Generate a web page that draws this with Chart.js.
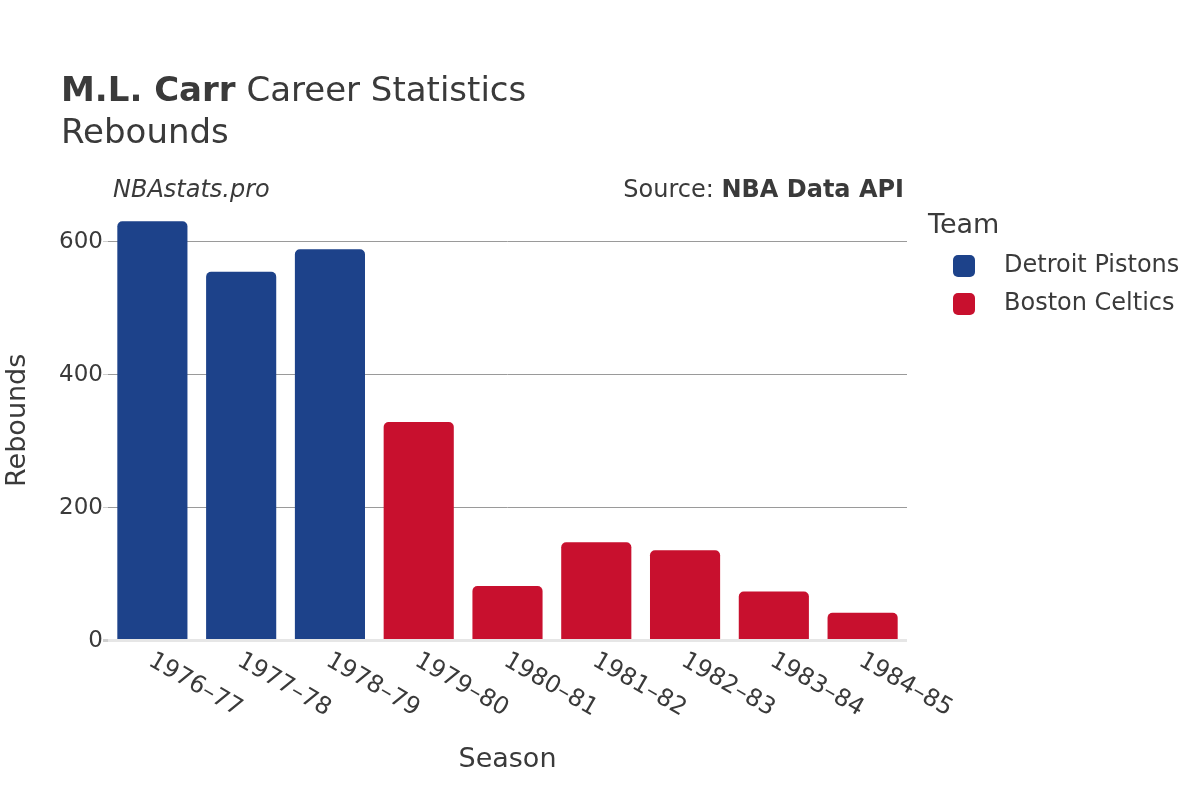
<!DOCTYPE html>
<html>
<head>
<meta charset="utf-8">
<title>M.L. Carr Career Statistics - Rebounds</title>
<script src="https://cdn.jsdelivr.net/npm/chart.js@4.4.0/dist/chart.umd.min.js"></script>
<style>
  html, body { margin: 0; padding: 0; background: #fff; }
  #wrap { position: relative; width: 1200px; height: 800px; }
</style>
</head>
<body>
<div id="wrap"><canvas id="chart" width="1200" height="800"></canvas></div>
<script>
// data
var seasons = ["1976–77", "1977–78", "1978–79", "1979–80", "1980–81", "1981–82", "1982–83", "1983–84", "1984–85"];
var pistonsReb = [631, 555, 589, null, null, null, null, null, null];
var celticsReb = [null, null, null, 329, 82, 148, 136, 74, 42];
var teams = ["Detroit Pistons", "Boston Celtics"];
var teamColors = ["#1d428a", "#c8102e"];
var yTicks = [0, 200, 400, 600];

var FONT = "'DejaVu Sans', 'Liberation Sans', sans-serif";
var TEXT = "#3a3a3a";

// titles, source notes, rotated season labels and the legend
var decorPlugin = {
  id: 'decor',
  afterDraw: function(chart) {
    var ctx = chart.ctx;
    var area = chart.chartArea;
    ctx.save();
    ctx.fillStyle = TEXT;
    ctx.textBaseline = 'alphabetic';
    ctx.textAlign = 'left';

    // title
    ctx.font = "bold 34px " + FONT;
    ctx.fillText("M.L. Carr", 61, 101);
    var w = ctx.measureText("M.L. Carr").width;
    ctx.font = "34px " + FONT;
    ctx.fillText(" Career Statistics", 61 + w, 101);
    ctx.fillText("Rebounds", 61, 143);

    // notes
    ctx.textBaseline = 'middle';
    ctx.font = "italic 24px " + FONT;
    ctx.fillText("NBAstats.pro", 113, 191);
    ctx.textAlign = 'right';
    ctx.font = "bold 24px " + FONT;
    ctx.fillText("NBA Data API", 904, 191);
    var bw = ctx.measureText("NBA Data API").width;
    ctx.font = "24px " + FONT;
    ctx.fillText("Source: ", 904 - bw, 191);

    // season labels, turned 30 degrees
    var xs = chart.scales.x;
    ctx.textAlign = 'left';
    ctx.textBaseline = 'top';
    ctx.font = "24px " + FONT;
    chart.data.labels.forEach(function(lab, i) {
      var x = xs.getPixelForTick(i);
      ctx.save();
      ctx.translate(x + 4, area.bottom + 8);
      ctx.rotate(Math.PI / 6);
      ctx.fillText(lab, 0, 0);
      ctx.restore();
    });

    // legend
    ctx.textBaseline = 'middle';
    ctx.font = "27px " + FONT;
    ctx.fillText("Team", 928, 226);
    ctx.font = "24px " + FONT;
    chart.data.datasets.forEach(function(ds, i) {
      var cy = 266 + i * 38;
      ctx.fillStyle = ds.backgroundColor;
      ctx.beginPath();
      ctx.roundRect(953, cy - 11, 22, 22, 5);
      ctx.fill();
      ctx.fillStyle = TEXT;
      ctx.fillText(ds.label, 1004, cy);
    });
    ctx.restore();
  }
};

new Chart(document.getElementById("chart"), {
  type: 'bar',
  data: {
    labels: seasons,
    datasets: [{
      label: teams[0],
      data: pistonsReb,
      backgroundColor: teamColors[0],
      borderRadius: 5,
      barPercentage: 0.79,
      categoryPercentage: 1
    }, {
      label: teams[1],
      data: celticsReb,
      backgroundColor: teamColors[1],
      borderRadius: 5,
      barPercentage: 0.79,
      categoryPercentage: 1
    }]
  },
  options: {
    responsive: false,
    animation: false,
    devicePixelRatio: 1,
    layout: { padding: { left: 0, top: 200, right: 293, bottom: 24 } },
    plugins: {
      legend: { display: false },
      tooltip: { enabled: false }
    },
    scales: {
      x: {
        stacked: true,
        grid: { display: false, drawTicks: false },
        border: { display: false },
        ticks: { display: false },
        title: {
          display: true,
          text: "Season",
          color: TEXT,
          font: { family: FONT, size: 27 },
          padding: { top: 103, bottom: 0 }
        }
      },
      y: {
        stacked: true,
        min: 0,
        max: 663,
        afterBuildTicks: function(scale) {
          scale.ticks = yTicks.map(function(v) { return { value: v }; });
        },
        afterFit: function(scale) { scale.width = 108; },
        border: { display: false },
        grid: {
          color: function(c) { return c.tick && c.tick.value === 0 ? '#e6e6e6' : '#9a9a9a'; },
          lineWidth: function(c) { return c.tick && c.tick.value === 0 ? 3 : 1; },
          tickColor: '#cfcfcf',
          tickLength: 5,
          drawTicks: true
        },
        ticks: {
          color: TEXT,
          font: { family: FONT, size: 23 },
          padding: 0
        },
        title: {
          display: true,
          text: "Rebounds",
          color: TEXT,
          font: { family: FONT, size: 27 },
          padding: { top: 2, bottom: 0 }
        }
      }
    }
  },
  plugins: [decorPlugin]
});
</script>
</body>
</html>
